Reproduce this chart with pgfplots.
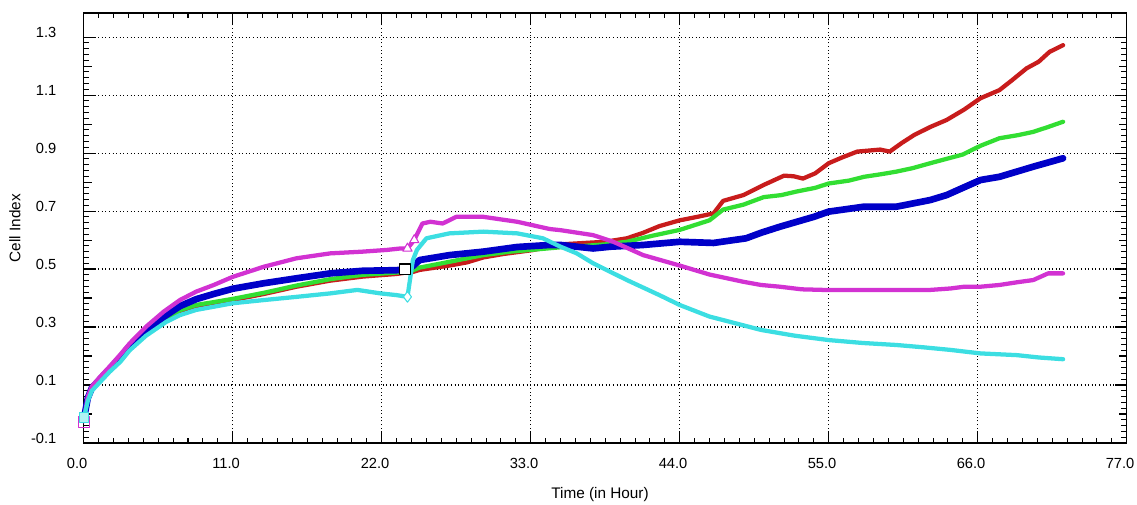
\documentclass[border=0pt]{standalone}
\usepackage{pgfplots}
\pgfplotsset{compat=1.18}
\usepackage{fontspec}
\setmainfont{Liberation Sans}

\definecolor{cired}{RGB}{200,28,28}
\definecolor{cigreen}{RGB}{50,222,50}
\definecolor{ciblue}{RGB}{0,0,200}
\definecolor{cimag}{RGB}{210,50,210}
\definecolor{cicyan}{RGB}{60,222,226}

\begin{document}
\begin{tikzpicture}[font=\fontsize{11}{13}\selectfont]
\begin{axis}[
  width=782.25pt, height=322.5pt, scale only axis,
  xmin=0, xmax=77, ymin=-0.1, ymax=1.383,
  clip=false,
  xtick={0,11,22,33,44,55,66,77}, minor x tick num=9,
  ytick={-0.1,0.1,0.3,0.5,0.7,0.9,1.1,1.3}, minor y tick num=9,
  extra y ticks={0,0.2,0.4,0.6,0.8,1.0,1.2},
  extra y tick labels={},
  extra y tick style={grid=none, major tick length=6pt},
  grid=major,
  major grid style={black, line width=0.8pt, dash pattern=on 0.8pt off 1.9pt},
  major tick length=9pt, minor tick length=4pt,
  tick style={black, line width=0.8pt},
  axis line style={line width=1pt},
  tick label style={font=\fontsize{11}{13}\selectfont},
  label style={font=\fontsize{11.5}{13}\selectfont},
  /pgf/number format/assume math mode=true,
  xticklabel style={/pgf/number format/fixed, /pgf/number format/fixed zerofill,
    /pgf/number format/precision=1, yshift=-8pt, xshift=-5pt},
  yticklabel style={/pgf/number format/fixed, /pgf/number format/fixed zerofill,
    /pgf/number format/precision=1, xshift=-17pt, yshift=3.5pt},
  xlabel={Time (in Hour)},
  xlabel style={at={(axis description cs:0.495,-0.12)}, anchor=center},
  ylabel={Cell Index},
  ylabel style={at={(axis description cs:-0.066,0.5)}, anchor=center},
  every axis plot/.append style={line join=round, line cap=round},
]
% red
\addplot[cired, line width=3.2pt] coordinates {
(0,-0.02) (0.3,0.05) (0.6,0.085) (1.2,0.115) (1.9,0.15) (2.7,0.19) (3.4,0.23)
(4.6,0.28) (5.9,0.325) (7.1,0.355) (8.3,0.372) (9.6,0.382) (11.0,0.393)
(13.3,0.414) (15.7,0.439) (18.2,0.46) (20.6,0.474) (23.1,0.483) (23.8,0.488)
(24.3,0.49) (24.8,0.497) (27,0.512) (28.3,0.523) (29.5,0.54) (31,0.552)
(33.1,0.565) (35.2,0.585) (37,0.59) (38.5,0.594) (40.1,0.606) (41.3,0.625)
(42.5,0.648) (44,0.668) (45.3,0.68) (46.5,0.692) (47.2,0.735) (48.7,0.755)
(50.2,0.79) (51.7,0.822) (52.4,0.82) (53.1,0.812) (54,0.83) (55,0.865)
(56,0.885) (57.1,0.905) (58.8,0.912) (59.5,0.905) (60.4,0.935) (61.3,0.962)
(62.5,0.99) (63.7,1.014) (65,1.05) (66.2,1.089) (67.6,1.117) (68.5,1.15)
(69.6,1.192) (70.5,1.215) (71.3,1.249) (72.3,1.272)
};
% green
\addplot[cigreen, line width=3.2pt] coordinates {
(0,-0.02) (0.3,0.05) (0.6,0.085) (1.2,0.115) (1.9,0.15) (2.7,0.19) (3.4,0.23)
(4.6,0.28) (5.9,0.325) (7.1,0.358) (8.3,0.376) (9.6,0.386) (11.0,0.397)
(13.3,0.418) (15.7,0.443) (18.2,0.465) (20.6,0.48) (23.1,0.488) (24,0.49)
(24.8,0.505) (25.8,0.514) (27,0.525) (29.5,0.548) (31.5,0.56) (33.5,0.568)
(35.2,0.575) (37,0.58) (38.5,0.585) (40.1,0.594) (42,0.615) (44,0.635)
(46.2,0.668) (47.2,0.705) (48.7,0.722) (50.2,0.748) (51.5,0.755) (52.6,0.767)
(54,0.78) (55,0.795) (56.5,0.805) (57.6,0.818) (59,0.828) (60,0.836)
(61.2,0.848) (62.5,0.865) (63.7,0.88) (64.9,0.895) (66.2,0.925) (67.6,0.951)
(69,0.962) (70.1,0.973) (71.2,0.99) (72.3,1.008)
};
% blue
\addplot[ciblue, line width=5pt] coordinates {
(0,-0.02) (0.3,0.055) (0.6,0.09) (1.2,0.12) (1.9,0.155) (2.7,0.195) (3.4,0.235)
(4.6,0.285) (6.1,0.341) (7.1,0.372) (8.3,0.396) (9.6,0.414) (11.0,0.432)
(13.3,0.451) (15.7,0.468) (18.2,0.485) (20.6,0.494) (23.1,0.496) (23.7,0.499)
(24.3,0.51) (24.8,0.531) (27,0.548) (29.5,0.56) (32,0.576) (34.4,0.583)
(35.2,0.583) (37.6,0.571) (38.9,0.577) (41.3,0.583) (44,0.594) (46.5,0.59)
(48.9,0.606) (50,0.625) (51.4,0.646) (53.9,0.68) (55,0.698) (57.6,0.715)
(60,0.715) (62.5,0.738) (63.7,0.755) (64.9,0.78) (66.2,0.807) (67.6,0.818)
(70.1,0.853) (72.3,0.882)
};
% magenta
\addplot[cimag, line width=3.2pt] coordinates {
(0,-0.025) (0.3,0.06) (0.6,0.095) (1.2,0.128) (1.9,0.163) (2.7,0.205)
(3.4,0.244) (4.6,0.301) (5.9,0.353) (7.1,0.393) (8.3,0.422) (9.6,0.445)
(11.0,0.473) (13.3,0.508) (15.7,0.537) (18.2,0.554) (20.6,0.56) (22.4,0.566)
(23.4,0.571) (23.9,0.571) (24.4,0.6) (25,0.657) (25.6,0.663) (26.5,0.657)
(27.5,0.68) (29.5,0.68) (32,0.663) (34.4,0.638) (35.2,0.634) (37.6,0.617)
(39.1,0.594) (41.3,0.548) (44,0.512) (46.2,0.481) (48.7,0.456) (50,0.445)
(51.4,0.439) (53,0.43) (54.6,0.428) (57,0.428) (60,0.428) (62.5,0.428)
(64,0.433) (65,0.439) (66.2,0.439) (67.6,0.445) (69,0.455) (70.1,0.462)
(71.2,0.485) (72.3,0.485)
};
% cyan
\addplot[cicyan, line width=3.2pt] coordinates {
(0,-0.015) (0.3,0.045) (0.6,0.08) (1.2,0.11) (1.9,0.145) (2.7,0.18) (3.4,0.22)
(4.6,0.27) (6.1,0.318) (7.1,0.341) (8.3,0.359) (9.6,0.37) (11.0,0.382)
(13.3,0.393) (15.7,0.404) (18.2,0.416) (20.2,0.428) (21.9,0.416) (23.1,0.41)
(23.9,0.404) (24.3,0.531) (24.6,0.566) (25.3,0.606) (27,0.623) (29.5,0.629)
(32,0.623) (33.9,0.606) (35.2,0.577) (36.4,0.554) (37.6,0.52) (40.1,0.462)
(42.5,0.41) (44,0.376) (46.2,0.336) (47.2,0.324) (50,0.29) (52.5,0.27)
(55,0.255) (57.5,0.245) (60,0.238) (62,0.23) (64,0.221) (66.2,0.209)
(68.9,0.203) (70.5,0.195) (72.3,0.189)
};
% event markers
\addplot[only marks, mark=square, mark size=4pt, draw=cimag, line width=0.8pt] coordinates {(0,-0.028)};
\addplot[only marks, mark=square*, mark size=3.5pt, draw=cicyan, fill=cicyan!40, line width=0.8pt] coordinates {(0,-0.012)};
\addplot[only marks, mark=square*, mark size=4pt, draw=black, fill=white, line width=0.8pt] coordinates {(23.7,0.499)};
\addplot[only marks, mark=diamond*, mark size=4pt, draw=cicyan, fill=white, line width=0.8pt] coordinates {(23.9,0.404)};
\addplot[only marks, mark=triangle*, mark size=4pt, draw=cimag, fill=white, line width=0.8pt] coordinates {(23.9,0.571) (24.4,0.6)};
\end{axis}
\pgfresetboundingbox
\path ([xshift=-62.8pt,yshift=-45.75pt]current axis.south west)
  rectangle ([xshift=7.7pt,yshift=9.75pt]current axis.north east);
\end{tikzpicture}
\end{document}
